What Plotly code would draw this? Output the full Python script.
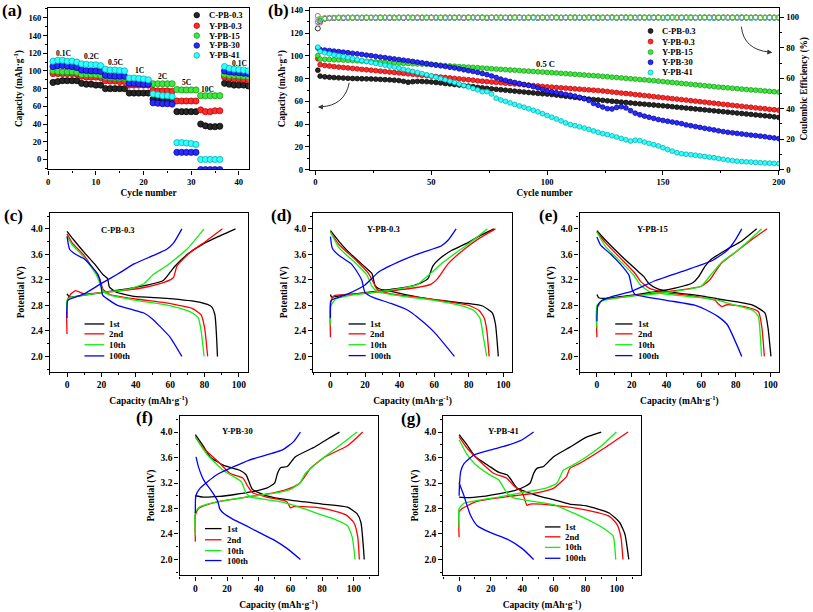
import plotly.graph_objects as go

W, H = 813, 612
SERIF = "Liberation Serif"

series_names = ["C-PB-0.3", "Y-PB-0.3", "Y-PB-15", "Y-PB-30", "Y-PB-41"]
cycle_names = ["1st", "2nd", "10th", "100th"]

# ---------------- (a) rate capability ----------------
rate_cycle = list(range(1, 43))
rate_labels = ["0.1C", "0.2C", "0.5C", "1C", "2C", "5C", "10C", "0.1C"]
rate_cpb03 = [87, 88, 89, 89, 89, 89, 86, 85, 85, 84, 84, 80, 80, 80, 80, 80, 75, 75, 75, 75, 75,
              68, 67, 67, 67, 67, 54, 54, 54, 54, 54, 40, 38, 37, 37, 37.5, 86, 85, 84, 84, 84, 83]
rate_ypb03 = [97, 97, 97, 97, 97, 96.5, 94, 93, 93, 93, 92.5, 89, 88.5, 88.5, 88, 88, 84, 84, 84, 84, 84,
              78, 77.5, 77.5, 77.5, 77, 66, 66, 66, 66, 66, 56, 54, 54, 55, 55, 93, 92, 91, 91, 90.5, 90]
rate_ypb15 = [100, 99.5, 99, 99, 99, 98.5, 96, 96, 96, 95.5, 95, 93, 92.5, 92, 92, 92, 89.5, 89, 88.5, 88.5, 88,
              85.5, 85.5, 85.5, 85.5, 85.5, 79, 78.5, 78.5, 78.5, 78.5, 72, 72, 72, 72, 72, 96, 95, 95, 94.5, 94, 93.5]
rate_ypb30 = [105, 106, 106, 105.5, 105, 104, 101, 100.5, 100, 100, 99.5, 95, 94.5, 94, 94, 94, 86, 86, 85.5, 85, 85,
              64, 63.5, 63, 63, 62.5, 8, 8, 8, 8, 8, -11.5, -11.5, -11.5, -11.5, -11.5, 100, 99, 98.5, 98, 97.5, 97]
rate_ypb41 = [111, 112, 112, 111, 111, 110, 108, 107.5, 107, 107, 106, 102, 101, 101, 100.5, 100, 92, 92, 91.5, 91, 90,
              74, 73, 72, 72, 71, 19, 19, 18.5, 18, 17, 0, 0, 0, 0, 0, 105, 103, 102, 101.5, 101, 100]

# ---------------- (b) long cycling at 0.5 C ----------------
long_cycle = [1] + list(range(2, 201, 2))
cap_cpb03 = [87.4, 82.2, 81.6, 81.2, 80.9, 80.7, 80.5, 80.3, 80.1, 80.0,
             79.9, 79.8, 79.7, 79.5, 79.3, 79.1, 78.9, 78.6, 78.3, 77.6,
             76.8, 77.3, 77.6, 77.5, 77.3, 77.0, 76.6, 76.2, 75.7, 75.3,
             74.8, 74.4, 73.9, 73.4, 72.9, 72.3, 71.9, 71.5, 71.0, 70.6,
             70.2, 69.8, 69.4, 69.0, 68.6, 68.2, 67.8, 67.4, 67.0, 66.7,
             66.4, 66.0, 65.5, 65.0, 64.5, 64.0, 63.5, 63.0, 62.5, 62.0,
             61.6, 61.2, 60.9, 60.5, 60.1, 59.7, 59.3, 59.0, 58.6, 58.2,
             57.8, 57.5, 57.1, 56.8, 56.4, 56.1, 55.7, 55.3, 54.9, 54.5,
             54.1, 53.7, 53.3, 52.9, 52.5, 52.1, 51.7, 51.3, 50.9, 50.5,
             50.1, 49.7, 49.3, 48.9, 48.5, 48.1, 47.7, 47.3, 46.9, 46.4,
             45.9]
cap_ypb03 = [97.5, 92.3, 91.6, 91.1, 90.6, 90.2, 89.8, 89.4, 89.0, 88.6,
             88.2, 87.8, 87.4, 87.0, 86.6, 86.2, 85.8, 85.4, 85.0, 84.6,
             84.2, 83.8, 83.4, 83.0, 82.6, 82.2, 81.8, 81.4, 81.0, 80.6,
             80.2, 79.8, 79.4, 79.0, 78.6, 78.1, 77.7, 77.4, 77.0, 76.7,
             76.4, 76.0, 75.7, 75.3, 75.0, 74.6, 74.3, 73.9, 73.5, 73.1,
             72.8, 72.5, 72.2, 71.9, 71.6, 71.3, 71.0, 70.7, 70.4, 70.1,
             69.8, 69.5, 69.1, 68.7, 68.2, 67.8, 67.3, 66.9, 66.5, 66.0,
             65.6, 65.1, 64.7, 64.2, 63.8, 63.3, 62.9, 62.4, 62.0, 61.5,
             61.1, 60.6, 60.2, 59.7, 59.3, 58.8, 58.4, 57.9, 57.4, 57.0,
             56.5, 56.1, 55.6, 55.2, 54.8, 54.3, 53.9, 53.5, 53.0, 52.6,
             52.2]
cap_ypb15 = [100.2, 97.2, 97.0, 96.8, 96.6, 96.5, 96.3, 96.1, 95.9, 95.7,
             95.4, 95.2, 95.0, 94.8, 94.5, 94.3, 94.1, 93.9, 93.7, 93.5,
             93.3, 93.1, 92.9, 92.7, 92.5, 92.3, 92.0, 91.8, 91.5, 91.2,
             90.9, 90.6, 90.4, 90.1, 89.9, 89.6, 89.3, 89.0, 88.7, 88.4,
             88.2, 87.9, 87.6, 87.4, 87.1, 86.8, 86.6, 86.3, 86.0, 85.8,
             85.5, 85.2, 85.0, 84.7, 84.4, 84.1, 83.8, 83.5, 83.2, 82.9,
             82.6, 82.3, 82.0, 81.7, 81.3, 81.0, 80.6, 80.3, 79.9, 79.6,
             79.2, 78.9, 78.5, 78.2, 77.8, 77.4, 77.0, 76.6, 76.2, 75.8,
             75.4, 75.0, 74.6, 74.2, 73.8, 73.4, 73.0, 72.6, 72.2, 71.9,
             71.5, 71.2, 70.8, 70.5, 70.1, 69.8, 69.5, 69.1, 68.8, 68.5,
             68.2]
cap_ypb30 = [107.0, 105.6, 105.1, 104.7, 104.2, 103.8, 103.3, 102.8, 102.3, 101.8,
             101.3, 100.7, 100.2, 99.6, 99.0, 98.5, 97.9, 97.3, 96.8, 96.2,
             95.7, 95.1, 94.5, 93.9, 93.3, 92.6, 92.0, 91.3, 90.7, 90.0,
             89.4, 88.6, 87.8, 87.0, 86.3, 85.5, 84.5, 83.5, 82.3, 81.0,
             79.6, 78.5, 77.5, 76.6, 75.8, 74.9, 74.0, 72.9, 71.8, 70.5,
             69.2, 68.4, 67.6, 66.9, 66.2, 65.4, 64.6, 63.6, 62.4, 60.8,
             58.2, 56.6, 55.0, 53.6, 53.3, 54.6, 55.3, 54.2, 51.8, 49.6,
             48.2, 47.0, 46.0, 45.0, 44.0, 43.2, 42.5, 41.8, 41.1, 40.4,
             39.3, 38.6, 37.8, 37.1, 36.3, 35.6, 34.9, 34.1, 33.4, 32.8,
             32.3, 31.8, 31.3, 30.8, 30.3, 29.9, 29.4, 28.9, 28.3, 27.8,
             27.2]
cap_ypb41 = [107.7, 103.9, 102.7, 101.8, 100.9, 100.1, 99.3, 98.5, 97.6, 96.8,
             95.9, 95.1, 94.3, 93.4, 92.6, 91.8, 91.0, 90.1, 89.2, 88.2,
             87.3, 86.3, 85.3, 84.4, 83.4, 82.4, 81.3, 80.1, 79.0, 77.8,
             76.6, 75.3, 74.0, 72.7, 71.4, 70.1, 68.5, 68.6, 66.5, 62.8,
             61.2, 60.0, 58.6, 57.3, 56.0, 54.8, 53.5, 52.2, 50.8, 49.2,
             47.6, 46.0, 44.5, 42.8, 41.0, 39.6, 38.6, 37.6, 36.5, 35.3,
             34.0, 32.8, 31.6, 30.7, 29.7, 28.6, 27.4, 26.2, 25.1, 25.8,
             25.4, 24.2, 23.0, 21.9, 20.8, 19.2, 17.6, 16.2, 14.8, 14.0,
             13.5, 13.1, 12.6, 12.0, 11.5, 10.9, 10.4, 9.7, 9.0, 8.4,
             7.8, 7.4, 7.1, 6.8, 6.6, 6.3, 6.0, 5.8, 5.6, 5.4,
             5.2]
ce_cpb03 = [92.7, 97.6, 99.1, 99.4, 99.5, 99.6, 99.5, 99.7, 99.6, 99.7,
            99.6, 99.7, 99.8, 99.6, 99.7, 99.8, 99.7, 99.6, 99.8, 99.7,
            99.8, 99.7, 99.6, 99.8, 99.7, 99.9, 99.7, 99.8, 99.6, 99.8,
            99.7, 99.8, 99.7, 99.9, 99.8, 99.7, 99.8, 99.6, 99.8, 99.7,
            99.9, 99.8, 99.7, 99.8, 99.9, 99.7, 99.8, 99.8, 99.6, 99.8,
            99.7, 99.9, 99.8, 99.7, 99.8, 99.9, 99.7, 99.8, 99.7, 99.9,
            99.8, 99.7, 99.8, 99.9, 99.8, 99.7, 99.9, 99.8, 99.7, 99.8,
            99.9, 99.7, 99.8, 99.8, 99.9, 99.7, 99.8, 99.9, 99.8, 99.7,
            99.8, 99.9, 99.7, 99.8, 99.9, 99.8, 99.7, 99.8, 99.9, 99.8,
            99.7, 99.9, 99.8, 99.8, 99.7, 99.9, 99.8, 99.7, 99.9, 99.8,
            99.8]
ce_ypb03 = [101.0, 96.6, 99.3, 99.6, 99.7, 99.8, 99.7, 99.9, 99.8, 99.7,
            99.9, 99.8, 99.7, 99.9, 99.8, 100.0, 99.8, 99.7, 99.9, 99.8,
            99.9, 99.8, 100.0, 99.8, 99.9, 99.7, 99.9, 99.8, 100.0, 99.9,
            99.8, 99.9, 99.7, 99.9, 100.0, 99.8, 99.9, 99.8, 99.9, 100.0,
            99.8, 99.9, 99.8, 100.1, 99.9, 99.8, 99.9, 100.0, 99.8, 99.9,
            99.9, 99.8, 100.0, 99.9, 99.8, 99.9, 100.0, 99.8, 99.9, 99.9,
            100.0, 99.8, 99.9, 99.9, 100.1, 99.8, 99.9, 100.0, 99.9, 99.8,
            99.9, 100.0, 99.9, 99.8, 100.0, 99.9, 99.9, 100.1, 99.8, 99.9,
            100.0, 99.9, 99.8, 99.9, 100.0, 99.9, 100.1, 99.8, 99.9, 100.0,
            99.9, 99.8, 100.0, 99.9, 99.9, 100.1, 99.8, 99.9, 100.0, 99.9,
            99.9]
ce_ypb15 = [98.5, 99.2, 99.6, 99.8, 99.9, 99.8, 100.0, 99.9, 99.8, 100.0,
            99.9, 100.0, 99.8, 99.9, 100.0, 99.9, 100.1, 99.9, 99.8, 100.0,
            99.9, 100.0, 99.9, 100.1, 99.9, 99.8, 100.0, 99.9, 100.0, 99.9,
            100.1, 99.9, 100.0, 99.8, 99.9, 100.0, 100.1, 99.9, 100.0, 99.9,
            100.0, 99.9, 100.1, 99.9, 100.0, 99.9, 100.0, 100.1, 99.9, 100.0,
            99.9, 100.0, 100.1, 99.9, 100.0, 99.9, 100.2, 99.9, 100.0, 99.9,
            100.0, 100.1, 99.9, 100.0, 100.1, 99.9, 100.0, 100.2, 99.9, 100.0,
            100.1, 99.9, 100.0, 100.1, 100.0, 99.9, 100.2, 100.0, 99.9, 100.1,
            100.0, 100.1, 99.9, 100.0, 100.2, 99.9, 100.0, 100.1, 100.0, 99.9,
            100.1, 100.0, 100.2, 99.9, 100.0, 100.1, 100.0, 99.9, 100.1, 100.0,
            100.0]
ce_ypb30 = [97.0, 98.8, 99.4, 99.6, 99.7, 99.8, 99.7, 99.8, 99.9, 99.8,
            99.7, 99.9, 99.8, 99.8, 99.9, 99.7, 99.8, 99.9, 99.8, 99.7,
            99.9, 99.8, 99.9, 99.7, 99.8, 99.9, 99.8, 99.7, 99.9, 99.8,
            99.8, 99.9, 99.7, 99.8, 99.9, 99.8, 99.9, 99.7, 99.8, 99.9,
            99.8, 99.7, 99.9, 99.8, 99.9, 99.8, 99.7, 99.9, 99.8, 99.9,
            99.8, 99.9, 99.7, 99.8, 99.9, 99.8, 99.9, 99.8, 99.7, 99.9,
            99.8, 99.9, 99.8, 99.7, 99.9, 99.8, 99.9, 99.8, 99.9, 99.7,
            99.8, 99.9, 99.8, 99.9, 99.8, 99.7, 99.9, 99.8, 99.9, 99.8,
            99.9, 99.7, 99.8, 99.9, 99.8, 99.9, 99.8, 99.7, 99.9, 99.8,
            99.9, 99.8, 99.7, 99.9, 99.8, 99.9, 99.8, 99.9, 99.7, 99.8,
            99.8]
ce_ypb41 = [96.0, 98.5, 99.3, 99.5, 99.6, 99.7, 99.6, 99.7, 99.8, 99.6,
            99.7, 99.8, 99.7, 99.6, 99.8, 99.7, 99.8, 99.6, 99.7, 99.8,
            99.7, 99.6, 99.8, 99.7, 99.8, 99.7, 99.6, 99.8, 99.7, 99.8,
            99.6, 99.7, 99.8, 99.7, 99.6, 99.8, 99.7, 99.8, 99.7, 99.6,
            99.8, 99.7, 99.8, 99.6, 99.7, 99.8, 99.7, 99.6, 99.8, 99.7,
            99.8, 99.7, 99.6, 99.8, 99.7, 99.8, 99.7, 99.6, 99.8, 99.7,
            99.6, 99.8, 99.7, 99.8, 99.6, 99.7, 99.8, 99.7, 99.6, 99.8,
            99.7, 99.8, 99.6, 99.7, 99.8, 99.7, 99.5, 99.8, 99.7, 99.6,
            99.8, 99.7, 99.6, 99.8, 99.7, 99.5, 99.8, 99.7, 99.6, 99.8,
            99.7, 99.6, 99.8, 99.7, 99.5, 99.7, 99.8, 99.6, 99.7, 99.8,
            99.7]

# ---------------- (c)-(g) charge / discharge profiles (charge branch, None, discharge branch) ----------------
c1_cap = [0, 1.5, 10, 20, 35, 47, 56, 60, 63, 70, 79, 89, 98, None, 0, 3.5, 10, 16, 21, 23.6, 24.6, 28.4, 39, 58, 77, 84, 86, 87.5]
c1_v = [2.98, 2.93, 2.96, 3.0, 3.06, 3.12, 3.19, 3.32, 3.42, 3.6, 3.76, 3.89, 4.0, None, 3.96, 3.84, 3.63, 3.45, 3.28, 3.22, 3.09, 3.01, 2.94, 2.91, 2.85, 2.78, 2.65, 2.0]
c2_cap = [0, 0, 2, 5, 10, 20, 35, 45, 55, 60, 62, 64, 71.6, 81, 90.4, None, 0, 3, 10, 17, 19, 21, 25, 40, 55, 65, 73, 78, 80, 81.8]
c2_v = [2.35, 2.85, 2.97, 3.03, 2.98, 3.0, 3.04, 3.08, 3.15, 3.2, 3.24, 3.42, 3.63, 3.81, 4.0, None, 3.92, 3.78, 3.58, 3.3, 3.22, 3.05, 2.97, 2.9, 2.85, 2.8, 2.75, 2.65, 2.45, 2.0]
c10_cap = [0, 0, 2, 10, 20, 35, 44.7, 50.5, 58, 69.7, 79.7, None, 0, 3, 10, 17, 19, 21, 25, 40, 55, 65, 73, 76.4, 78, 79.7]
c10_v = [2.72, 2.88, 2.92, 2.96, 3.0, 3.05, 3.14, 3.29, 3.42, 3.68, 4.0, None, 3.88, 3.75, 3.55, 3.28, 3.15, 3.02, 2.96, 2.88, 2.82, 2.76, 2.68, 2.6, 2.4, 2.0]
c100_cap = [0, 0.5, 5, 10, 19.8, 30, 39, 50, 58, 62, 66.8, None, 0, 1.5, 5, 10, 14, 17.9, 19.5, 20.7, 23, 29.4, 37, 44.7, 50, 54, 60, 66.8]
c100_v = [2.6, 2.88, 2.93, 2.98, 3.14, 3.3, 3.45, 3.58, 3.68, 3.78, 4.0, None, 3.88, 3.68, 3.6, 3.53, 3.42, 3.29, 3.15, 2.96, 2.91, 2.8, 2.74, 2.68, 2.58, 2.47, 2.3, 2.0]

d1_cap = [0, 0.6, 5, 20, 35, 45, 52, 56.4, 59.3, 64, 70, 79.3, 87, 94.6, None, 0, 5, 10, 20, 24, 25.8, 28, 35, 50.7, 60, 70, 79.3, 88, 93.7, 95.5, 97.1]
d1_v = [2.97, 2.93, 2.95, 3.0, 3.05, 3.09, 3.15, 3.22, 3.42, 3.55, 3.66, 3.78, 3.9, 4.0, None, 3.97, 3.8, 3.65, 3.4, 3.3, 3.11, 3.06, 3.02, 2.93, 2.89, 2.86, 2.83, 2.79, 2.68, 2.5, 2.0]
d2_cap = [0, 0, 2, 10, 20, 35, 50, 58, 62, 68, 77.4, 86, 95.5, None, 0, 5, 15, 22, 25, 27, 35, 50, 65, 80, 86, 89, 90.5, 91.8]
d2_v = [2.3, 2.85, 2.95, 2.97, 2.99, 3.03, 3.08, 3.13, 3.22, 3.45, 3.68, 3.85, 4.0, None, 3.95, 3.75, 3.5, 3.3, 3.15, 3.05, 2.98, 2.93, 2.87, 2.8, 2.72, 2.6, 2.4, 2.0]
d10_cap = [0, 0, 3, 10, 20, 35, 50, 54.5, 60, 64, 75.5, 84, 90.8, None, 0, 5, 15, 21, 24, 27, 40, 60, 75, 83, 86.5, 88.5, 90.4]
d10_v = [2.5, 2.78, 2.9, 2.95, 2.99, 3.04, 3.12, 3.22, 3.35, 3.45, 3.68, 3.85, 4.0, None, 3.95, 3.7, 3.45, 3.28, 3.1, 3.02, 2.95, 2.88, 2.8, 2.72, 2.6, 2.3, 2.0]
d100_cap = [0, 0.5, 5, 10, 20, 27.7, 41, 52, 64, 68, 72.7, None, 0, 1, 5, 12, 16, 18.2, 20, 25, 35, 45, 50, 60, 71.7]
d100_v = [2.6, 2.88, 2.93, 2.98, 3.12, 3.32, 3.5, 3.62, 3.73, 3.82, 4.0, None, 3.88, 3.7, 3.58, 3.45, 3.3, 3.19, 3.0, 2.92, 2.83, 2.72, 2.62, 2.38, 2.0]

e1_cap = [0, 1, 5, 15, 30, 45, 55, 58.6, 62.4, 66.2, 75, 83.4, 92, None, 0, 5, 15, 24.2, 27, 30, 35, 45, 60, 70, 79.6, 90, 96.8, 98.5, 100.2]
e1_v = [2.97, 2.92, 2.91, 2.94, 3.0, 3.07, 3.15, 3.25, 3.42, 3.53, 3.68, 3.81, 4.0, None, 3.97, 3.82, 3.55, 3.32, 3.25, 3.14, 3.06, 3.0, 2.95, 2.9, 2.86, 2.8, 2.68, 2.45, 2.0]
e2_cap = [0, 0, 3, 15, 30, 45, 60, 65, 68, 72, 79.6, 90, 98, None, 0, 5, 15, 22, 25, 30, 40, 55, 68, 70, 72, 75, 85, 93, 95, 96.4]
e2_v = [2.3, 2.75, 2.88, 2.93, 2.98, 3.03, 3.1, 3.2, 3.32, 3.47, 3.63, 3.85, 4.0, None, 3.95, 3.78, 3.5, 3.3, 3.18, 3.07, 3.0, 2.95, 2.88, 2.82, 2.78, 2.81, 2.78, 2.7, 2.45, 2.0]
e10_cap = [0, 0, 3, 15, 30, 45, 60, 66.2, 72, 79.6, 87, 94.8, None, 0, 5, 15, 21, 25, 30, 45, 60, 70, 80, 90, 93, 94, 94.8]
e10_v = [2.45, 2.8, 2.87, 2.93, 2.97, 3.02, 3.1, 3.3, 3.48, 3.63, 3.8, 4.0, None, 3.95, 3.72, 3.45, 3.28, 3.12, 3.02, 2.96, 2.92, 2.88, 2.8, 2.72, 2.62, 2.35, 2.0]
e100_cap = [0, 0.5, 3, 10, 20, 33.8, 51, 66.2, 75, 80, 83.4, None, 0, 2, 8, 15, 18.5, 20.4, 22, 40, 56.7, 65, 70, 75, 83.4]
e100_v = [2.55, 2.8, 2.88, 2.95, 3.02, 3.19, 3.35, 3.5, 3.66, 3.84, 4.0, None, 3.87, 3.75, 3.6, 3.4, 3.27, 3.04, 2.97, 2.88, 2.8, 2.7, 2.62, 2.5, 2.0]

f1_cap = [0, 5, 15, 25, 35, 45, 50, 51.8, 53.8, 58, 63, 75.6, 84, 91, None, 0, 5, 9.3, 17.6, 28, 32, 36, 45, 60, 80, 96, 102, 104.5, 106.6]
f1_v = [3.0, 2.98, 2.99, 3.02, 3.06, 3.12, 3.2, 3.35, 3.44, 3.46, 3.61, 3.77, 3.9, 4.0, None, 3.96, 3.78, 3.61, 3.48, 3.4, 3.33, 3.1, 3.0, 2.93, 2.87, 2.82, 2.72, 2.58, 2.0]
f2_cap = [0, 0, 2, 10, 20, 35, 50, 60, 66, 70.4, 72.5, 81.8, 96.3, 105.6, None, 0, 5, 15, 22, 30, 33, 36, 45, 55, 58, 60, 62, 75, 85, 95, 100, 102.5, 103.5]
f2_v = [2.28, 2.7, 2.8, 2.88, 2.93, 2.99, 3.05, 3.12, 3.2, 3.35, 3.43, 3.61, 3.79, 4.0, None, 3.93, 3.75, 3.52, 3.35, 3.28, 3.15, 3.05, 2.98, 2.93, 2.9, 2.81, 2.83, 2.82, 2.78, 2.7, 2.58, 2.35, 2.0]
f10_cap = [0, 0, 3, 10, 20, 35, 50, 60, 66, 69.4, 73, 80, 90, 102, None, 0, 7, 17.6, 29, 32, 35, 45, 55, 69.4, 79.7, 88, 96, 99, 100.8]
f10_v = [2.38, 2.75, 2.83, 2.88, 2.93, 2.99, 3.04, 3.1, 3.2, 3.35, 3.43, 3.58, 3.77, 4.0, None, 3.92, 3.66, 3.4, 3.22, 3.04, 2.98, 2.94, 2.9, 2.79, 2.7, 2.63, 2.53, 2.35, 2.0]
f100_cap = [0, 0.3, 3, 13.5, 34, 55, 62, 66.3, None, 0.4, 2, 5.2, 10, 12.4, 14, 15.5, 18, 23.8, 32, 40.4, 50, 58, 66.3]
f100_v = [2.73, 3.0, 3.12, 3.33, 3.56, 3.72, 3.85, 4.0, None, 3.61, 3.45, 3.25, 3.08, 2.99, 2.92, 2.79, 2.72, 2.63, 2.53, 2.42, 2.3, 2.17, 2.0]

g1_cap = [0, 5, 15, 25, 35, 42, 45, 47.2, 49.3, 53.5, 59.7, 70, 80.7, 90, None, 0, 5, 10, 20, 25, 30.4, 33, 36.7, 45, 50, 59.7, 70, 80.7, 95, 101.7, 105, 107.5]
g1_v = [2.98, 2.97, 2.99, 3.03, 3.08, 3.15, 3.2, 3.35, 3.43, 3.46, 3.61, 3.76, 3.92, 4.0, None, 3.96, 3.8, 3.62, 3.45, 3.37, 3.33, 3.25, 3.12, 3.04, 3.0, 2.94, 2.87, 2.84, 2.73, 2.58, 2.4, 2.0]
g2_cap = [0, 0, 2, 10, 20, 35, 50, 60, 68, 70.2, 76.5, 93.3, 107, None, 0, 5, 15, 22, 30, 35, 40, 43, 45, 60, 80, 95, 100, 102.5, 103.8]
g2_v = [2.35, 2.75, 2.8, 2.9, 2.95, 3.0, 3.05, 3.12, 3.3, 3.43, 3.51, 3.77, 4.0, None, 3.93, 3.75, 3.5, 3.35, 3.28, 3.15, 3.05, 2.85, 2.87, 2.85, 2.78, 2.68, 2.55, 2.35, 2.0]
g10_cap = [0, 0, 3, 10, 25, 40, 55, 62, 66, 72, 80, 90, 99.6, None, 0, 5, 10, 20, 25, 30.4, 34, 45, 60, 72.3, 85, 92, 97.5, 99.2]
g10_v = [2.5, 2.8, 2.88, 2.92, 2.98, 3.05, 3.12, 3.2, 3.4, 3.48, 3.6, 3.78, 4.0, None, 3.88, 3.65, 3.5, 3.32, 3.25, 3.04, 2.97, 2.92, 2.86, 2.73, 2.58, 2.48, 2.37, 2.0]
g100_cap = [0, 0.3, 1, 3, 9.4, 20, 30.4, 40, 47.2, None, 0, 3.1, 5, 7.3, 11.5, 20, 30.4, 40, 47.2]
g100_v = [3.0, 3.2, 3.38, 3.5, 3.64, 3.72, 3.79, 3.88, 4.0, None, 3.2, 3.0, 2.85, 2.69, 2.53, 2.42, 2.32, 2.17, 2.0]

# ---------------- styling ----------------
MARK_FILL = ["#262626", "#ff2a2a", "#3ee83e", "#2a2aff", "#30ffff"]
MARK_EDGE = ["#000000", "#b00000", "#119011", "#000090", "#00a5a5"]
LINE_COL = ["#000000", "#ff0000", "#11ee11", "#0000ff"]


def PX(x):
    return x / W


def PY(y):
    return 1 - y / H


def font(size, color="black"):
    return dict(family=SERIF, size=size, color=color, weight="bold")


def axis(px0, px1, rng, anchor, dtick, minor, title, tick0=0, tickformat=None, standoff=4,
         tsize=9.5, titsize=9.5, vertical=False, side=None, overlaying=None, mirror=True):
    if vertical:
        dom = [PY(px1), PY(px0)]
    else:
        dom = [PX(px0), PX(px1)]
    d = dict(domain=dom, range=rng, anchor=anchor, tickmode="linear", tick0=tick0, dtick=dtick,
             ticks="outside", ticklen=4, tickwidth=1, tickcolor="black",
             showline=True, linecolor="black", linewidth=1.3, mirror=mirror,
             showgrid=False, zeroline=False, tickfont=font(tsize),
             title=dict(text=title, font=font(titsize), standoff=standoff),
             minor=dict(ticks="outside", ticklen=2, tickcolor="black", tick0=tick0, dtick=minor, showgrid=False))
    if tickformat:
        d["tickformat"] = tickformat
    if side:
        d["side"] = side
    if overlaying:
        d["overlaying"] = overlaying
    return d


fig = go.Figure()

# (a)
rate_series = [rate_cpb03, rate_ypb03, rate_ypb15, rate_ypb30, rate_ypb41]
for i, vals in enumerate(rate_series):
    fig.add_trace(go.Scatter(x=rate_cycle, y=vals, mode="markers", name=series_names[i], showlegend=False,
                             marker=dict(size=6.2, color=MARK_FILL[i], line=dict(color=MARK_EDGE[i], width=0.7)),
                             xaxis="x", yaxis="y"))

# (b) coulombic efficiency (right axis)
ce_series = [ce_cpb03, ce_ypb30, ce_ypb41, ce_ypb03, ce_ypb15]
ce_idx = [0, 3, 4, 1, 2]
for vals, i in zip(ce_series, ce_idx):
    fig.add_trace(go.Scatter(x=long_cycle, y=vals, mode="markers", name=series_names[i] + " CE", showlegend=False,
                             marker=dict(symbol="circle-open", size=5, color=MARK_EDGE[i] if i == 0 else MARK_FILL[i],
                                         line=dict(width=0.8)),
                             xaxis="x2", yaxis="y3"))
# (b) capacity (left axis)
cap_series = [cap_cpb03, cap_ypb03, cap_ypb15, cap_ypb30, cap_ypb41]
for i, vals in enumerate(cap_series):
    fig.add_trace(go.Scatter(x=long_cycle, y=vals, mode="markers", name=series_names[i], showlegend=False,
                             marker=dict(size=4.8, color=MARK_FILL[i], line=dict(color=MARK_EDGE[i], width=0.7)),
                             xaxis="x2", yaxis="y2"))

# (c)-(g)
profile_panels = [
    ("x3", "y4", [(c1_cap, c1_v), (c2_cap, c2_v), (c10_cap, c10_v), (c100_cap, c100_v)]),
    ("x4", "y5", [(d1_cap, d1_v), (d2_cap, d2_v), (d10_cap, d10_v), (d100_cap, d100_v)]),
    ("x5", "y6", [(e1_cap, e1_v), (e2_cap, e2_v), (e10_cap, e10_v), (e100_cap, e100_v)]),
    ("x6", "y7", [(f1_cap, f1_v), (f2_cap, f2_v), (f10_cap, f10_v), (f100_cap, f100_v)]),
    ("x7", "y8", [(g1_cap, g1_v), (g2_cap, g2_v), (g10_cap, g10_v), (g100_cap, g100_v)]),
]
for xa, ya, curves in profile_panels:
    for k, (cx, cy) in enumerate(curves):
        fig.add_trace(go.Scatter(x=cx, y=cy, mode="lines", name=cycle_names[k], showlegend=False,
                                 line=dict(color=LINE_COL[k], width=1.3, shape="spline", smoothing=0.5),
                                 xaxis=xa, yaxis=ya))

CAP_TITLE = "Capacity (mAh·g<sup>-1</sup>)"
layout = dict(
    width=W, height=H, autosize=False, margin=dict(l=0, r=0, t=0, b=0),
    paper_bgcolor="white", plot_bgcolor="white", showlegend=False,
    xaxis=axis(46.7, 249.3, [0, 42.1], "y", 10, 5, "Cycle number", standoff=3, tsize=8.6, titsize=9.3),
    yaxis=axis(5.7, 169.3, [-11.2, 171.5], "x", 20, 10, CAP_TITLE, vertical=True, standoff=4, tsize=8.6, titsize=9.3),
    xaxis2=axis(311, 785, [-2.4, 200.2], "y2", 50, 25, "Cycle number", standoff=3, tsize=8.6, titsize=9.3),
    yaxis2=axis(6, 169.5, [0, 142.2], "x2", 20, 10, CAP_TITLE, vertical=True, standoff=2, tsize=8.6, titsize=9.3),
    yaxis3=axis(6, 169.5, [0, 106.2], "x2", 20, 10, "Coulombic Efficiency (%)", vertical=True, standoff=2,
                tsize=8.6, titsize=9.3, side="right", overlaying="y2", mirror=False),
)
pot_panels = [
    ("xaxis3", "yaxis4", "y4", "x3", 48.3, 248, 213.3, 374, [-10, 105], [1.76, 4.25]),
    ("xaxis4", "yaxis5", "y5", "x4", 314.3, 515, 213.3, 374, [-10, 105], [1.76, 4.25]),
    ("xaxis5", "yaxis6", "y6", "x5", 583.3, 785, 213.3, 374, [-10, 105], [1.76, 4.25]),
    ("xaxis6", "yaxis7", "y7", "x6", 179.3, 379.3, 418.3, 580, [-10, 115], [1.75, 4.26]),
    ("xaxis7", "yaxis8", "y8", "x7", 445.7, 645, 418.3, 580, [-10, 115], [1.75, 4.26]),
]
for xk, yk, yname, xname, x0, x1, y0, y1, xr, yr in pot_panels:
    layout[xk] = axis(x0, x1, xr, yname, 20, 10, CAP_TITLE, standoff=8, tsize=9.5, titsize=9.5)
    layout[yk] = axis(y0, y1, yr, xname, 0.4, 0.2, "Potential (V)", tick0=2.0, tickformat=".1f",
                      vertical=True, standoff=4, tsize=9.5, titsize=9.5)
fig.update_layout(**layout)

ann = []
shapes = []


def text(x, y, s, size, xanchor="center", xref="paper", yref="paper"):
    ann.append(dict(x=x, y=y, xref=xref, yref=yref, text=s, showarrow=False, font=font(size),
                    xanchor=xanchor, yanchor="middle"))


# panel letters
for lab, x, y in [("(a)", 10, 9), ("(b)", 279, 9), ("(c)", 12, 216), ("(d)", 282, 216), ("(e)", 552, 216),
                  ("(f)", 144, 420), ("(g)", 413, 421)]:
    text(PX(x), PY(y), lab, 17)

# (a) rate labels (data coordinates)
for lab, x, y in zip(rate_labels, [3.3, 9, 14.1, 19.2, 24, 29, 33.5, 40.1],
                     [120, 116.5, 110, 100.5, 94, 87, 79, 108]):
    text(x, y, lab, 7.5, xref="x", yref="y")

# (a) legend
for i, y in enumerate([13.3, 24, 34, 44, 54]):
    r = 2.8
    shapes.append(dict(type="circle", xref="paper", yref="paper", x0=PX(196.7 - r), x1=PX(196.7 + r),
                       y0=PY(y + r), y1=PY(y - r), fillcolor=MARK_FILL[i], line=dict(color=MARK_EDGE[i], width=0.7)))
    text(PX(207.5), PY(y), series_names[i], 8.6, xanchor="left")

# (b) legend
for i, y in enumerate([29.3, 40, 50.7, 61, 71.3]):
    r = 2.5
    shapes.append(dict(type="circle", xref="paper", yref="paper", x0=PX(655 - r), x1=PX(655 + r),
                       y0=PY(y + r), y1=PY(y - r), fillcolor=MARK_FILL[i], line=dict(color=MARK_EDGE[i], width=0.7)))
    text(PX(665), PY(y), series_names[i], 8.6, xanchor="left")

# (b) label and arrows
text(99.5, 92.6, "0.5 C", 8.5, xref="x2", yref="y2")
shapes.append(dict(type="path", xref="paper", yref="paper",
                   path=f"M {PX(350.7)},{PY(81.7)} Q {PX(346)},{PY(105)} {PX(322)},{PY(106)}",
                   line=dict(color="#333333", width=1)))
shapes.append(dict(type="path", xref="paper", yref="paper",
                   path=f"M {PX(746.7)},{PY(25)} Q {PX(749)},{PY(48)} {PX(775)},{PY(50.7)}",
                   line=dict(color="#333333", width=1)))
ann.append(dict(x=PX(319), y=PY(106.2), xref="paper", yref="paper", ax=6, ay=0, text="", showarrow=True,
                arrowhead=2, arrowsize=1, arrowwidth=1, arrowcolor="#333333"))
ann.append(dict(x=PX(778), y=PY(51), xref="paper", yref="paper", ax=-6, ay=-0.5, text="", showarrow=True,
                arrowhead=2, arrowsize=1, arrowwidth=1, arrowcolor="#333333"))

# (c)-(g) titles and legends
panel_titles = [("C-PB-0.3", 116.7, 231), ("Y-PB-0.3", 385, 230), ("Y-PB-15", 656.7, 230),
                ("Y-PB-30", 238.3, 434.3), ("Y-PB-41", 506, 434.3)]
for s, x, y in panel_titles:
    text(PX(x), PY(y), s, 8.6)

legend_boxes = [
    (83.3, 103.3, 106.5, [325.7, 335.7, 346.7, 358]),
    (350, 367.3, 370, [325.7, 335.7, 346.7, 357.7]),
    (619.3, 636.7, 640, [325.7, 335.7, 346.7, 357.7]),
    (205, 221.7, 225, [532.7, 544, 555, 565]),
    (548.3, 564, 566.7, [531, 541, 551.7, 562.7]),
]
for lx0, lx1, tx, ys in legend_boxes:
    for k, y in enumerate(ys):
        shapes.append(dict(type="line", xref="paper", yref="paper", x0=PX(lx0), x1=PX(lx1), y0=PY(y), y1=PY(y),
                           line=dict(color=LINE_COL[k], width=1.3)))
        text(PX(tx), PY(y), cycle_names[k], 8.8, xanchor="left")

fig.update_layout(annotations=ann, shapes=shapes)
fig.write_html("out.html",
               config={"displayModeBar": False, "staticPlot": False},
               post_script="document.body.style.margin='0';document.body.style.padding='0';"
                           "document.body.style.overflow='hidden';")
